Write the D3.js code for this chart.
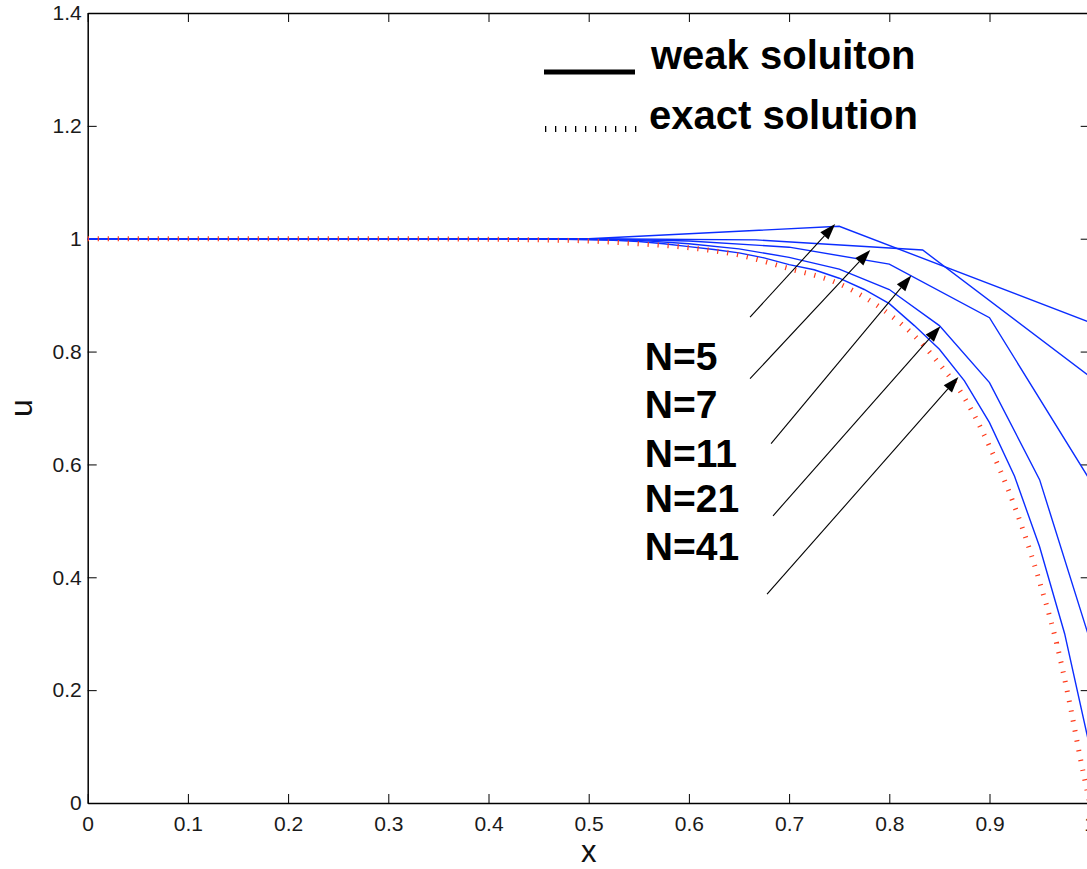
<!DOCTYPE html>
<html>
<head>
<meta charset="utf-8">
<script src="https://cdn.jsdelivr.net/npm/d3@7"></script>
<style>
  html, body { margin: 0; padding: 0; background: #ffffff; }
  svg { display: block; }
  text { font-family: "Liberation Sans", Arial, Helvetica, sans-serif; }
</style>
</head>
<body>
<svg id="chart" width="1087" height="869"></svg>
<script>
// ---------- data ----------
const xTicks = [0, 0.1, 0.2, 0.3, 0.4, 0.5, 0.6, 0.7, 0.8, 0.9, 1];
const xTickLabels = ["0", "0.1", "0.2", "0.3", "0.4", "0.5", "0.6", "0.7", "0.8", "0.9", "1"];
const yTicks = [0, 0.2, 0.4, 0.6, 0.8, 1, 1.2, 1.4];
const yTickLabels = ["0", "0.2", "0.4", "0.6", "0.8", "1", "1.2", "1.4"];

const n5X = [0, 0.25, 0.5, 0.75, 1];
const n5U = [1, 1, 1.0, 1.022, 0.852];

const n7X = [0, 0.1667, 0.3333, 0.5, 0.6667, 0.8333, 1];
const n7U = [1, 1, 1, 1.0, 0.998, 0.980, 0.756];

const n11X = [0, 0.1, 0.2, 0.3, 0.4, 0.5, 0.6, 0.7, 0.8, 0.9, 1];
const n11U = [1, 1, 1, 1, 1, 1.0, 0.996, 0.985, 0.955, 0.86, 0.573];

const n21X = [0, 0.05, 0.1, 0.15, 0.2, 0.25, 0.3, 0.35, 0.4, 0.45, 0.5,
              0.55, 0.6, 0.65, 0.7, 0.75, 0.8, 0.85, 0.9, 0.95, 1];
const n21U = [1, 1, 1, 1, 1, 1, 1, 1, 1, 1, 0.999,
              0.997, 0.991, 0.982, 0.967, 0.946, 0.910, 0.846, 0.745, 0.573, 0.29];

const n41X = [0, 0.025, 0.05, 0.075, 0.1, 0.125, 0.15, 0.175, 0.2, 0.225, 0.25,
              0.275, 0.3, 0.325, 0.35, 0.375, 0.4, 0.425, 0.45, 0.475, 0.5,
              0.525, 0.55, 0.575, 0.6, 0.625, 0.65, 0.675, 0.7, 0.725, 0.75,
              0.775, 0.8, 0.825, 0.85, 0.875, 0.9, 0.925, 0.95, 0.975, 1];
const n41U = [1, 1, 1, 1, 1, 1, 1, 1, 1, 1, 1,
              1, 1, 1, 1, 1, 1, 1, 1, 0.999, 0.998,
              0.997, 0.995, 0.991, 0.986, 0.981, 0.975, 0.966, 0.954, 0.945, 0.93,
              0.91, 0.885, 0.846, 0.804, 0.748, 0.674, 0.579, 0.454, 0.30, 0.10];

const exactX = [0, 0.1, 0.2, 0.3, 0.4, 0.45, 0.5, 0.55, 0.6, 0.65, 0.7, 0.75, 0.8,
                0.825, 0.85, 0.875, 0.9, 0.925, 0.95, 0.967, 0.98, 0.99, 1.0];
const exactU = [1, 1, 1, 1, 0.999, 0.998, 0.996, 0.991, 0.984, 0.971, 0.947, 0.920, 0.866,
                0.828, 0.778, 0.718, 0.632, 0.526, 0.392, 0.283, 0.177, 0.085, 0];

const seriesNames = ["N=5", "N=7", "N=11", "N=21", "N=41"];
// arrow annotations in data coordinates
const arrowStartX = [0.661, 0.661, 0.682, 0.684, 0.678];
const arrowStartU = [0.861, 0.752, 0.637, 0.509, 0.370];
const arrowTipX   = [0.746, 0.781, 0.822, 0.851, 0.869];
const arrowTipU   = [1.026, 0.980, 0.935, 0.845, 0.755];
// label anchor positions (data coordinates)
const labelX = [0.556, 0.556, 0.556, 0.556, 0.556];
const labelU = [0.767, 0.683, 0.596, 0.515, 0.430];

const legendLabels = ["weak soluiton", "exact solution"];
const xLabel = "x";
const yLabel = "u";

// ---------- layout ----------
const svg = d3.select("#chart");
const padL = 87.7, padR = 1089.7, padT = 13, padB = 803;
const x = d3.scaleLinear().domain([0, 1]).range([padL, padR]);
const y = d3.scaleLinear().domain([0, 1.4]).range([padB, padT]);

const blue = "#0b2dff";
const red = "#ff3a1a";

svg.append("rect").attr("width", 1087).attr("height", 869).attr("fill", "#fff");

// ---------- axes ----------
function styleAxis(g) {
  g.attr("font-size", 21).attr("font-family", '"Liberation Sans", Arial, Helvetica, sans-serif');
  g.select(".domain").attr("stroke", "#000").attr("stroke-width", 1.5);
  g.selectAll(".tick line").attr("stroke", "#000").attr("stroke-width", 1);
  g.selectAll(".tick text").attr("fill", "#1a1a1a").style("font-size", "21px");
}

const gx = svg.append("g").attr("transform", `translate(0,${padB})`)
  .call(d3.axisBottom(x).tickValues(xTicks).tickSizeInner(-9).tickSizeOuter(0).tickPadding(13)
    .tickFormat((d, i) => xTickLabels[i]));
styleAxis(gx);

const gxt = svg.append("g").attr("transform", `translate(0,${padT})`)
  .call(d3.axisTop(x).tickValues(xTicks).tickSizeInner(-9).tickSizeOuter(0).tickFormat(""));
styleAxis(gxt);

const gy = svg.append("g").attr("transform", `translate(${padL},0)`)
  .call(d3.axisLeft(y).tickValues(yTicks).tickSizeInner(-9).tickSizeOuter(0).tickPadding(6)
    .tickFormat((d, i) => yTickLabels[i]));
styleAxis(gy);

const gyr = svg.append("g").attr("transform", `translate(${padR},0)`)
  .call(d3.axisRight(y).tickValues(yTicks).tickSizeInner(-9).tickSizeOuter(0).tickFormat(""));
styleAxis(gyr);

// axis labels
svg.append("text").attr("x", x(0.5)).attr("y", 862).attr("text-anchor", "middle")
  .style("font-size", "31px").attr("fill", "#111").text(xLabel);
svg.append("text").attr("transform", `translate(32,${y(0.7)}) rotate(-90)`)
  .attr("text-anchor", "middle").style("font-size", "32px").attr("fill", "#111").text(yLabel);

// ---------- lines ----------
const plot = svg.append("g");
const line = d3.line().x(d => x(d[0])).y(d => y(d[1]));
const weak = [[n5X, n5U], [n7X, n7U], [n11X, n11U], [n21X, n21U], [n41X, n41U]];
weak.forEach(([xs, us]) => {
  const pts = xs.map((v, i) => [v, us[i]]);
  plot.append("path").attr("d", line(pts)).attr("fill", "none")
    .attr("stroke", blue).attr("stroke-width", 1.4);
});

const exactPts = exactX.map((v, i) => [v, exactU[i]]);
plot.append("path").attr("d", d3.line().x(d => x(d[0])).y(d => y(d[1])).curve(d3.curveMonotoneX)(exactPts))
  .attr("fill", "none").attr("stroke", red).attr("stroke-width", 5)
  .attr("stroke-dasharray", "1.2 8.8");

// ---------- arrows ----------
const ann = svg.append("g");
seriesNames.forEach((name, i) => {
  const x0 = x(arrowStartX[i]), y0 = y(arrowStartU[i]);
  const x1 = x(arrowTipX[i]), y1 = y(arrowTipU[i]);
  const dx = x1 - x0, dy = y1 - y0, len = Math.hypot(dx, dy);
  const ux = dx / len, uy = dy / len;
  const hl = 16, hw = 5.5;
  const bx = x1 - ux * hl, by = y1 - uy * hl;
  ann.append("line").attr("x1", x0).attr("y1", y0).attr("x2", bx).attr("y2", by)
    .attr("stroke", "#000").attr("stroke-width", 1.1);
  ann.append("path")
    .attr("d", `M${x1},${y1}L${bx - uy * hw},${by + ux * hw}L${bx + uy * hw},${by - ux * hw}Z`)
    .attr("fill", "#000");
  ann.append("text").attr("x", x(labelX[i])).attr("y", y(labelU[i]))
    .style("font-size", "39px").style("font-weight", "bold").attr("fill", "#000").text(name);
});

// ---------- legend ----------
const lg = svg.append("g");
lg.append("line").attr("x1", 544).attr("x2", 635).attr("y1", 72).attr("y2", 72)
  .attr("stroke", "#000").attr("stroke-width", 5);
lg.append("text").attr("x", 651).attr("y", 69).style("font-size", "40px")
  .style("font-weight", "bold").attr("fill", "#000").text(legendLabels[0]);
lg.append("line").attr("x1", 545).attr("x2", 640).attr("y1", 129).attr("y2", 129)
  .attr("stroke", "#000").attr("stroke-width", 6).attr("stroke-dasharray", "1.3 8.7");
lg.append("text").attr("x", 649).attr("y", 129).style("font-size", "40px")
  .style("font-weight", "bold").attr("fill", "#000").text(legendLabels[1]);
</script>
</body>
</html>
